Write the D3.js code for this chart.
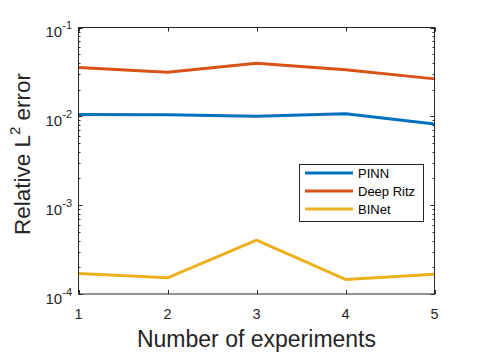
<!DOCTYPE html>
<html>
<head>
<meta charset="utf-8">
<script src="https://cdn.jsdelivr.net/npm/d3@7"></script>
<style>
  body { margin: 0; background: #fff; }
  svg { font-family: "Liberation Sans", Arial, sans-serif; }
</style>
</head>
<body>
<div class="display"></div>
<script>
const experiments = [1, 2, 3, 4, 5];
const pinn = [0.0105, 0.0104, 0.0100, 0.0107, 0.0082];
const deepRitz = [0.0355, 0.0314, 0.0396, 0.0334, 0.0264];
const binet = [1.70e-4, 1.52e-4, 4.05e-4, 1.46e-4, 1.67e-4];
const seriesNames = ['PINN', 'Deep Ritz', 'BINet'];
const seriesColors = ['#0072BD', '#D95319', '#EDB120'];
const yTickExps = [-1, -2, -3, -4];

const width = 481;
const height = 354;
const plotLeft = 78.5, plotRight = 434.5, plotTop = 27.5, plotBottom = 294;

const svg = d3.select('.display')
  .append('svg')
  .attr('width', width)
  .attr('height', height);

const xScale = d3.scaleLinear().domain([1, 5]).range([plotLeft, plotRight]);
const yScale = d3.scaleLog().domain([1e-4, 1e-1]).range([plotBottom, plotTop]);

// minor log ticks on y (left and right)
const minor = [];
for (let e = -4; e < -1; e++) {
  for (let m = 2; m <= 9; m++) minor.push(m * Math.pow(10, e));
}
const axisG = svg.append('g').attr('stroke', '#262626').attr('stroke-width', 1);
minor.forEach(v => {
  const y = Math.round(yScale(v)) + 0.5;
  axisG.append('line').attr('x1', plotLeft).attr('x2', plotLeft + 2).attr('y1', y).attr('y2', y);
  axisG.append('line').attr('x1', plotRight).attr('x2', plotRight - 2).attr('y1', y).attr('y2', y);
});
yTickExps.forEach(e => {
  const y = Math.round(yScale(Math.pow(10, e))) + 0.5;
  axisG.append('line').attr('x1', plotLeft).attr('x2', plotLeft + 4).attr('y1', y).attr('y2', y);
  axisG.append('line').attr('x1', plotRight).attr('x2', plotRight - 4).attr('y1', y).attr('y2', y);
});
experiments.forEach(d => {
  const x = Math.round(xScale(d)) + 0.5;
  axisG.append('line').attr('x1', x).attr('x2', x).attr('y1', plotBottom).attr('y2', plotBottom - 4);
  axisG.append('line').attr('x1', x).attr('x2', x).attr('y1', plotTop).attr('y2', plotTop + 4);
});

// data lines
const line = d3.line().x((d, i) => xScale(experiments[i])).y(d => yScale(d));
[pinn, deepRitz, binet].forEach((s, i) => {
  svg.append('path')
    .attr('d', line(s))
    .attr('fill', 'none')
    .attr('stroke', seriesColors[i])
    .attr('stroke-width', 3)
    .attr('stroke-linejoin', 'round');
});

// box
svg.append('rect')
  .attr('x', plotLeft).attr('y', plotTop)
  .attr('width', plotRight - plotLeft).attr('height', plotBottom - plotTop)
  .attr('fill', 'none').attr('stroke', '#262626').attr('stroke-width', 1);

// x tick labels
svg.append('g').selectAll('text')
  .data(experiments)
  .enter().append('text')
  .attr('x', d => xScale(d))
  .attr('y', 319)
  .attr('text-anchor', 'middle')
  .attr('font-size', 14.5)
  .attr('fill', '#262626')
  .text(d => d);

// y tick labels
yTickExps.forEach(e => {
  const t = svg.append('text')
    .attr('x', 72)
    .attr('y', yScale(Math.pow(10, e)) + 9.5)
    .attr('text-anchor', 'end')
    .attr('fill', '#262626')
    .attr('font-size', 15);
  t.append('tspan').text('10');
  t.append('tspan').attr('dy', -8).attr('font-size', 11).text(e);
});

// axis titles
svg.append('text')
  .attr('x', xScale(3))
  .attr('y', 347)
  .attr('text-anchor', 'middle')
  .attr('font-size', 23)
  .attr('fill', '#262626')
  .text('Number of experiments');

const yl = svg.append('text')
  .attr('transform', `translate(30, 154) rotate(-90)`)
  .attr('text-anchor', 'middle')
  .attr('font-size', 22.5)
  .attr('fill', '#262626');
yl.append('tspan').text('Relative L');
yl.append('tspan').attr('dy', -10).attr('font-size', 15).text('2');
yl.append('tspan').attr('dy', 10).text(' error');

// legend
const legend = svg.append('g').attr('id', 'legend');
legend.append('rect')
  .attr('x', 299.5).attr('y', 164.5)
  .attr('width', 124).attr('height', 57)
  .attr('fill', '#fff').attr('stroke', '#262626').attr('stroke-width', 1);
seriesNames.forEach((name, i) => {
  const y = 173 + i * 18;
  legend.append('line')
    .attr('x1', 305).attr('x2', 353)
    .attr('y1', y).attr('y2', y)
    .attr('stroke', seriesColors[i]).attr('stroke-width', 3);
  legend.append('text')
    .attr('x', 358).attr('y', y + 4.5)
    .attr('font-size', 13)
    .attr('fill', '#000')
    .text(name);
});
</script>
</body>
</html>
